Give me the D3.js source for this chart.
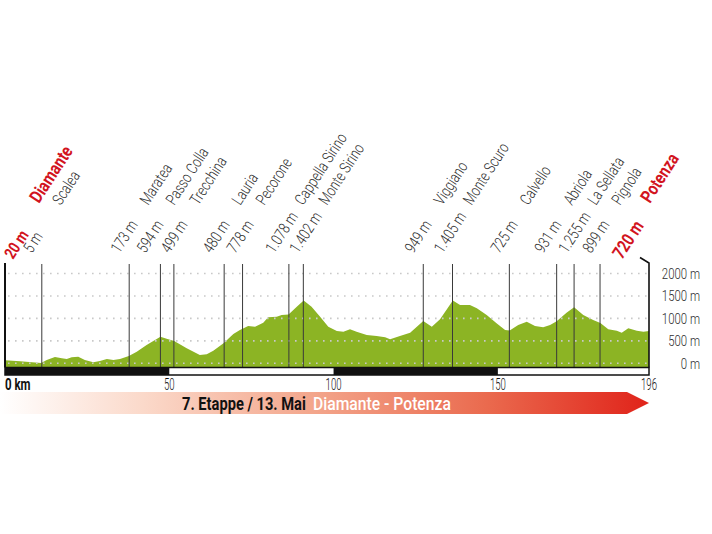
<!DOCTYPE html>
<html><head><meta charset="utf-8">
<script src="https://cdn.jsdelivr.net/npm/d3@7"></script>
<style>
html,body{margin:0;padding:0;background:#fff;}
svg{display:block;}
text{font-family:Roboto,"Noto Sans","DejaVu Sans",sans-serif;}
</style></head><body><svg id="c" width="712" height="534"></svg>
<script>
// ---- data ----
const startName = "Diamante", startElev = 20;
const endName = "Potenza", endElev = 720;
const totalKm = 196;
const markerNames = ["Scalea","Maratea","Passo Colla","Trecchina","Lauria","Pecorone","Cappella Sirino","Monte Sirino","Viggiano","Monte Scuro","Calvello","Abriola","La Sellata","Pignola"];
const markerKm    = [11.2, 37.8, 47.3, 51.4, 66.7, 72.3, 86.4, 90.8, 127.3, 136.2, 153.5, 167.9, 173.2, 181.1];
const markerElev  = [5, 173, 594, 499, 480, 778, 1078, 1402, 949, 1405, 725, 931, 1255, 899];
const profileKm   = [0,4.6,11,12.7,15.2,17.3,18.8,20.3,22.3,24.3,26.9,28.9,31,33,35,37.7,40.1,43.1,47.3,49.2,51.5,55.3,59.3,61.4,63.4,66.6,69.5,71.5,72.3,74,76.1,78.6,80.1,82.7,84.2,86.3,88.8,90.9,93.3,95.9,98.4,101,103,105,107,110.1,113.1,115.7,117.2,120.2,123.3,127.3,129.9,132.4,136.3,138.5,141.5,143.6,146.6,149.6,152.2,153.6,156.2,158.8,161.3,163.8,165.9,167.9,170.9,173.2,176,179,181.2,183.6,186.2,187.7,189.7,192.3,194.3,196];
const profileElev = [70,45,5,73,140,111,96,134,147,73,22,51,96,73,96,165,258,408,590,548,495,334,185,200,281,450,653,742,770,831,815,904,1024,1038,1076,1085,1261,1400,1261,1038,815,719,704,757,704,630,608,579,535,608,682,940,815,980,1400,1298,1298,1225,1076,891,742,730,853,926,831,802,853,935,1127,1250,1076,964,895,757,726,682,780,726,704,720];
const kmTicks = [0, 50, 100, 150, 196];
const elevTicks = [0, 500, 1000, 1500, 2000];
const stageTitle = "7. Etappe / 13. Mai";
const stageRoute = "Diamante - Potenza";

// ---- layout ----
const W = 712, H = 534;
const svg = d3.select("#c");
svg.append("rect").attr("width", W).attr("height", H).attr("fill", "#fff");
const x = d3.scaleLinear().domain([0, totalKm]).range([5, 649]);
const y = d3.scaleLinear().domain([0, 2000]).range([363.3, 273.5]);
const barTop = 367.5, barH = 7.5, lineTop = 264;
const green = "#8cb424", red = "#d2141e", ink = "#2e2e2e";
const de = d3.formatLocale({decimal: ",", thousands: ".", grouping: [3], currency: ["", ""]});
const fmt = v => de.format(",")(v) + " m";

// area
const area = d3.area().x((d, i) => x(profileKm[i])).y0(barTop - 0.5).y1(d => y(d));
svg.append("path").attr("d", area(profileElev)).attr("fill", green);

// dotted grid
svg.append("g").selectAll("line").data(elevTicks).join("line")
  .attr("x1", x(0) + 3).attr("x2", x(totalKm) - 2)
  .attr("y1", d => y(d)).attr("y2", d => y(d))
  .attr("stroke", "#c9c9c9").attr("stroke-width", 1.6)
  .attr("stroke-dasharray", "1.6,5.4");

// marker lines
svg.append("g").selectAll("line").data(markerKm).join("line")
  .attr("x1", d => x(d)).attr("x2", d => x(d))
  .attr("y1", lineTop).attr("y2", barTop)
  .attr("stroke", "#3a3a3a").attr("stroke-width", 1);

// start / end lines
svg.append("line").attr("x1", x(0)).attr("x2", x(0)).attr("y1", lineTop - 1).attr("y2", barTop)
  .attr("stroke", "#111").attr("stroke-width", 2);
svg.append("path")
  .attr("d", `M${x(totalKm) - 9},257.5 L${x(totalKm)},263 L${x(totalKm)},${barTop}`)
  .attr("fill", "none").attr("stroke", "#111").attr("stroke-width", 1.6);

// km bar
svg.append("rect").attr("x", x(0)).attr("y", barTop).attr("width", x(totalKm) - x(0)).attr("height", barH)
  .attr("fill", "#fff").attr("stroke", "#111").attr("stroke-width", 1.5);
const segs = d3.pairs(kmTicks).filter((p, i) => i % 2 === 0);
svg.append("g").selectAll("rect").data(segs).join("rect")
  .attr("x", d => x(d[0])).attr("width", d => x(d[1]) - x(d[0]))
  .attr("y", barTop).attr("height", barH).attr("fill", "#111");

// km labels
svg.append("g").selectAll("text").data(kmTicks).join("text")
  .attr("transform", (d, i) => `translate(${x(d)},389.5) scale(${i === 0 ? 0.72 : 0.6},1)`)
  .attr("text-anchor", (d, i) => i === 0 ? "start" : "middle")
  .attr("font-size", 16).attr("font-weight", (d, i) => i === 0 ? "bold" : "300")
  .attr("fill", "#111")
  .text((d, i) => i === 0 ? d + " km" : d);

// elevation axis labels
svg.append("g").selectAll("text").data(elevTicks).join("text")
  .attr("transform", d => `translate(700,${y(d)}) scale(0.76,1)`).attr("dy", "0.36em")
  .attr("text-anchor", "end").attr("font-size", 15).attr("font-weight", "300").attr("fill", ink)
  .text(d => d + " m");

// rotated labels with simple collision spacing
const ang = -57, sx = 0.78;
const anchors = markerKm.map(k => x(k) - 10);
const gap = 24;
for (let it = 0; it < 60; it++) {
  for (let i = 1; i < anchors.length; i++) {
    const d = anchors[i] - anchors[i - 1];
    if (d < gap) { const o = (gap - d) / 2; anchors[i - 1] -= o; anchors[i] += o; }
  }
}
const lab = svg.append("g");
markerNames.forEach((n, i) => {
  const ax = anchors[i], ay = 254;
  lab.append("text").attr("transform", `translate(${ax},${ay}) rotate(${ang}) scale(${sx},1)`)
    .attr("font-size", 16).attr("font-weight", "300").attr("fill", ink).text(fmt(markerElev[i]));
  lab.append("text").attr("transform", `translate(${ax + 29},${ay - 48}) rotate(${ang}) scale(${sx},1)`)
    .attr("font-size", 16).attr("font-weight", "300").attr("fill", ink).text(n);
});
// start / end labels (red)
[[13, 39, 16.5, startElev, startName], [622, 650, 18, endElev, endName]].forEach(([ax, nx, fs, e, n]) => {
  lab.append("text").attr("transform", `translate(${ax},260) rotate(${ang}) scale(0.8,1)`)
    .attr("font-size", fs).attr("font-weight", "bold").attr("fill", red).text(e + " m");
  lab.append("text").attr("transform", `translate(${nx},204) rotate(${ang}) scale(0.82,1)`)
    .attr("font-size", 18).attr("font-weight", "bold").attr("fill", red).text(n);
});

// banner arrow
const defs = svg.append("defs");
const g = defs.append("linearGradient").attr("id", "bg").attr("x1", "0%").attr("x2", "100%");
[["0%", "#ffffff"], ["22%", "#fbd9ca"], ["48%", "#f3a68c"], ["75%", "#ea6a4e"], ["100%", "#e0231a"]]
  .forEach(([o, c]) => g.append("stop").attr("offset", o).attr("stop-color", c));
const tip = x(totalKm);
svg.append("path")
  .attr("d", `M0,392 L${tip - 22},392 L${tip},403 L${tip - 22},414 L0,414 Z`)
  .attr("fill", "url(#bg)");
function fitText(t, x0, w, fill, weight) {
  const el = svg.append("text").attr("font-size", 18).attr("font-weight", weight)
    .attr("fill", fill).text(t);
  const len = el.node().getComputedTextLength();
  el.attr("transform", `translate(${x0},410) scale(${w / len},1)`);
}
fitText(stageTitle, 182, 124, "#111", "bold");
fitText(stageRoute, 313, 138, "#fff", "500");
</script></body></html>
